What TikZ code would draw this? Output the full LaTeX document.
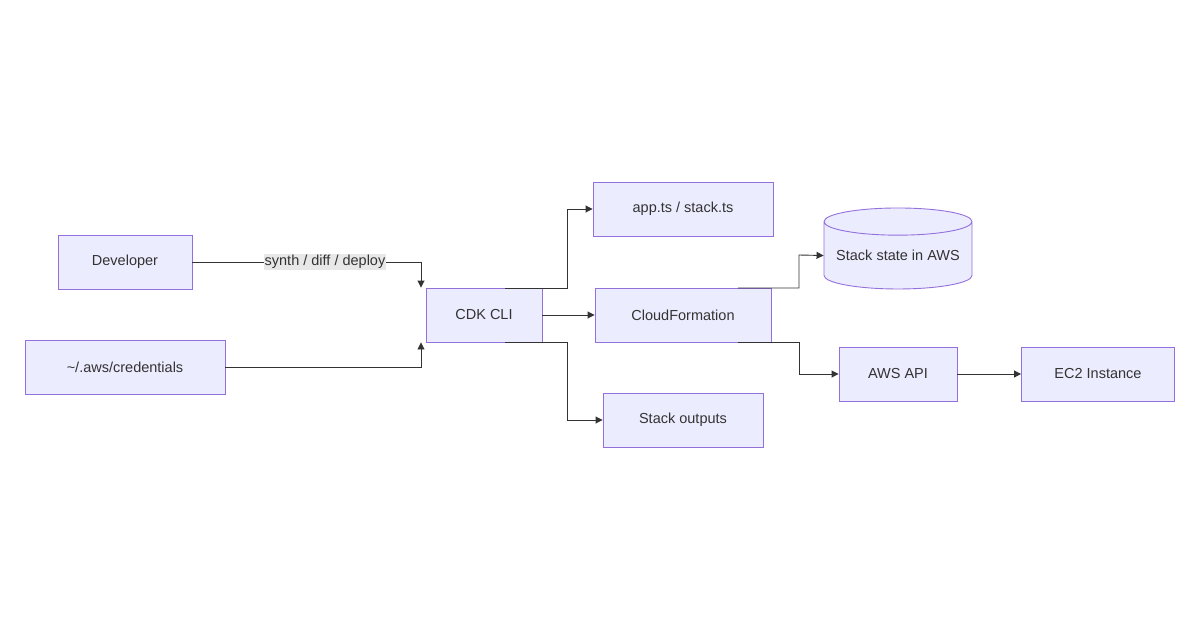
\documentclass[tikz,border=0pt]{standalone}
\usepackage{fontspec}
\setmainfont{Liberation Sans}
\usetikzlibrary{shapes.geometric,arrows.meta}
\definecolor{nf}{HTML}{ECECFF}
\definecolor{ns}{HTML}{9370DB}
\definecolor{ln}{HTML}{333333}
\begin{document}
\begin{tikzpicture}[x=1pt,y=-1pt,
 box/.style={draw=ns,fill=nf,line width=0.9pt,minimum height=54pt,inner sep=0pt,font=\fontsize{14.5}{16}\selectfont,text=ln},
 arr/.style={draw=ln,line width=0.9pt,-{Triangle[length=7pt,width=7pt]}}]
\path[use as bounding box] (0,0) rectangle (1200,630);
\node[box,minimum width=134pt] (dev) at (125,262) {Developer};
\node[box,minimum width=200pt] (cred) at (125,367) {\textasciitilde/.aws/credentials};
\node[box,minimum width=116pt] (cdk) at (484,315) {CDK CLI};
\node[box,minimum width=180pt] (app) at (683,209) {app.ts / stack.ts};
\node[box,minimum width=176pt] (cf) at (683,315) {CloudFormation};
\node[box,minimum width=160pt] (out) at (683,420) {Stack outputs};
\node[box,cylinder,shape border rotate=90,aspect=0.22,minimum width=148pt,minimum height=81pt] (st) at (898,255.5) {Stack state in AWS};
\node[box,minimum width=118pt] (api) at (898,374) {AWS API};
\node[box,minimum width=153pt] (ec2) at (1098,374) {EC2 Instance};
\draw[arr] (dev.east) -| (421,0|-cdk.north) coordinate (a1);
\node[fill=black!9,inner sep=1pt,font=\fontsize{14.5}{16}\selectfont,text=ln] (lbl) at (325,262) {synth / diff / deploy};
\draw[arr] (cred.east) -| (421,0|-cdk.south);
\coordinate (c1) at (505,288);
\coordinate (c2) at (505,342);
\draw[arr] (c1) -| (567,209) -- (app.west);
\draw[arr] (c2) -| (567,420) -- (out.west);
\draw[arr] (cdk.east) -- (cf.west);
\coordinate (f1) at (738,288);
\coordinate (f2) at (738,342);
\draw[arr] (f1) -| (799,255) -- (st.west);
\draw[arr] (f2) -| (799,374) -- (api.west);
\draw[arr] (api.east) -- (ec2.west);
\end{tikzpicture}
\end{document}
